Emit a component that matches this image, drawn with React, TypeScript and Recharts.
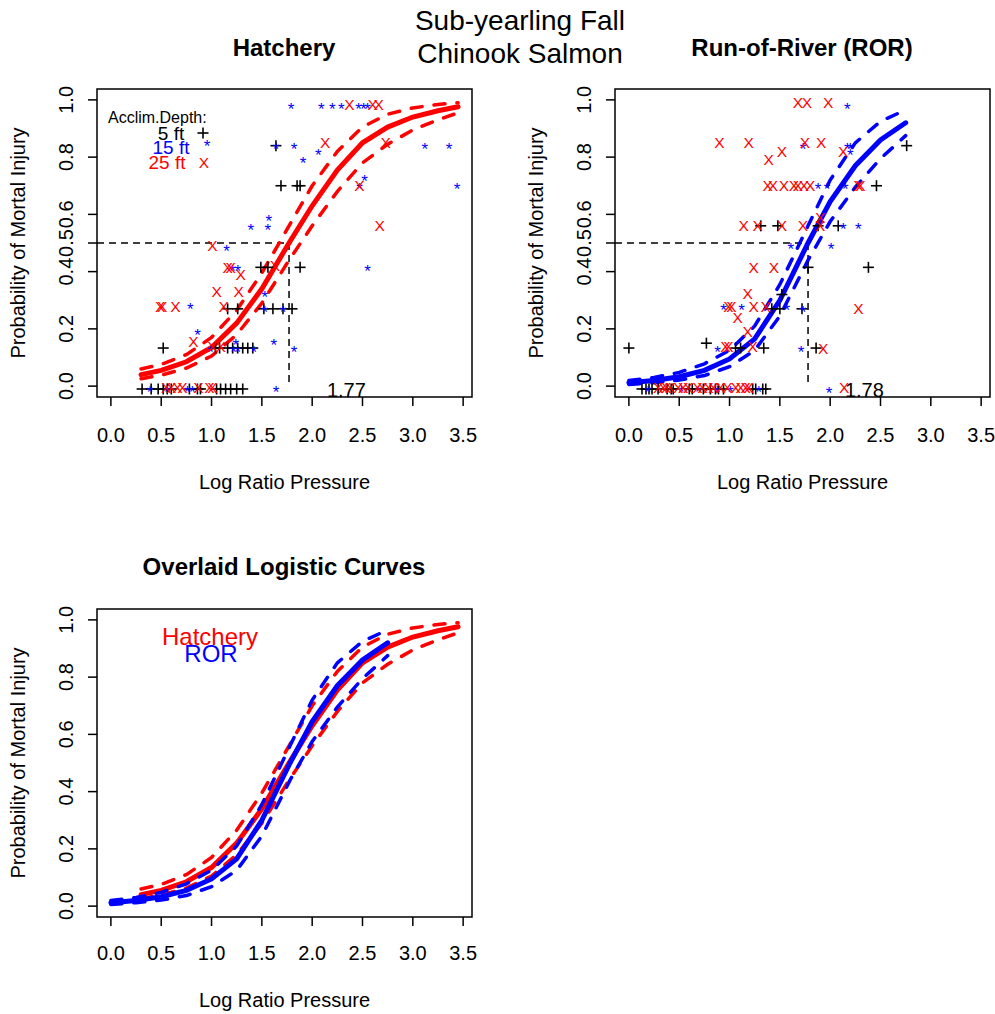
import React from 'react';
import {
  ComposedChart,
  Line,
  Scatter,
  XAxis,
  YAxis,
  ReferenceLine,
  ReferenceArea,
  ReferenceDot,
  Label,
} from 'recharts';

const FONT = '"Liberation Sans", Arial, Helvetica, sans-serif';
const RED = '#ff0000';
const BLUE = '#0000ff';

const X_DOMAIN = [-0.138, 3.588];
const Y_DOMAIN = [-0.038, 1.038];
const xTicks = [0, 0.5, 1, 1.5, 2, 2.5, 3, 3.5];
const yTicksLD50 = [0, 0.2, 0.4, 0.5, 0.6, 0.8, 1];
const yTicksPlain = [0, 0.2, 0.4, 0.6, 0.8, 1];

// fitted logistic curve and 95% band, hatchery fish
const hatchX = [0.3, 0.5, 0.75, 1.0, 1.25, 1.5, 1.77, 2.0, 2.25, 2.5, 2.75, 3.0, 3.25, 3.45];
const hatchFit = [0.04, 0.055, 0.085, 0.135, 0.22, 0.34, 0.5, 0.63, 0.755, 0.85, 0.905, 0.94, 0.962, 0.976];
const hatchUpper = [0.06, 0.076, 0.11, 0.17, 0.265, 0.395, 0.56, 0.7, 0.82, 0.905, 0.95, 0.972, 0.984, 0.99];
const hatchLower = [0.026, 0.038, 0.063, 0.105, 0.18, 0.29, 0.44, 0.56, 0.68, 0.78, 0.845, 0.895, 0.93, 0.955];

// fitted logistic curve and 95% band, run-of-river fish
const rorX = [0.0, 0.25, 0.5, 0.75, 1.0, 1.25, 1.5, 1.78, 2.0, 2.25, 2.5, 2.75];
const rorFit = [0.012, 0.02, 0.033, 0.055, 0.095, 0.165, 0.3, 0.5, 0.645, 0.77, 0.86, 0.92];
const rorUpper = [0.02, 0.03, 0.048, 0.078, 0.125, 0.21, 0.355, 0.56, 0.72, 0.85, 0.925, 0.965];
const rorLower = [0.006, 0.012, 0.021, 0.037, 0.068, 0.125, 0.245, 0.44, 0.575, 0.695, 0.795, 0.875];

// observed proportions by acclimation depth (x = log ratio pressure)
const hatch5ft: [number, number][] = [
  [1.64, 0.84], [1.69, 0.7], [1.85, 0.7], [1.88, 0.7], [1.88, 0.415], [1.49, 0.415], [1.56, 0.415],
  [1.16, 0.27], [1.26, 0.27], [1.52, 0.27], [1.61, 0.27], [1.71, 0.27], [1.8, 0.27],
  [0.52, 0.133], [1.04, 0.133], [1.08, 0.133], [1.16, 0.133], [1.21, 0.133], [1.26, 0.133],
  [1.31, 0.133], [1.36, 0.133], [1.41, 0.133],
  [0.31, -0.01], [0.4, -0.01], [0.47, -0.01], [0.52, -0.01], [0.56, -0.01], [0.6, -0.01],
  [0.78, -0.01], [0.86, -0.01], [0.89, -0.01], [1.05, -0.01], [1.09, -0.01], [1.14, -0.01],
  [1.19, -0.01], [1.25, -0.01], [1.31, -0.01],
];
const hatch15ft: [number, number][] = [
  [1.79, 0.98], [2.09, 0.98], [2.2, 0.98], [2.29, 0.98], [2.46, 0.98], [2.51, 0.98], [2.55, 0.98],
  [1.64, 0.84], [1.82, 0.84], [2.06, 0.82], [1.91, 0.79], [3.12, 0.84], [3.36, 0.84],
  [2.52, 0.73], [2.47, 0.7], [3.44, 0.7], [1.57, 0.59], [1.39, 0.556], [1.56, 0.556],
  [1.15, 0.486], [2.55, 0.415], [1.21, 0.415], [1.26, 0.415], [1.53, 0.325],
  [0.79, 0.28], [1.53, 0.27], [1.71, 0.27], [0.86, 0.19], [1.24, 0.157], [1.62, 0.157],
  [1.82, 0.13], [0.99, 0.133], [1.22, 0.133], [1.26, 0.133], [1.42, 0.133],
  [0.39, -0.01], [0.56, -0.01], [0.76, -0.01], [0.81, -0.01], [1.64, -0.01],
];
const hatch25ft: [number, number][] = [
  [2.37, 0.985], [2.6, 0.985], [2.66, 0.985], [2.13, 0.85], [2.73, 0.85], [2.47, 0.7],
  [2.67, 0.56], [1.01, 0.49], [1.16, 0.415], [1.19, 0.415], [1.63, 0.42], [1.29, 0.39],
  [1.05, 0.33], [1.27, 0.33], [0.49, 0.277], [0.51, 0.277], [0.64, 0.277], [1.12, 0.277],
  [0.82, 0.155], [1.01, 0.14], [1.09, 0.14],
  [0.55, -0.005], [0.6, -0.005], [0.66, -0.005], [0.71, -0.005], [0.87, -0.005], [0.98, -0.005], [1.01, -0.005],
];

const ror5ft: [number, number][] = [
  [2.76, 0.84], [2.46, 0.7], [1.31, 0.56], [1.48, 0.56], [1.88, 0.56], [2.08, 0.56],
  [1.78, 0.415], [2.38, 0.415], [1.52, 0.32], [1.42, 0.27], [1.5, 0.27], [1.72, 0.27],
  [0.0, 0.133], [0.77, 0.15], [1.06, 0.133], [1.11, 0.133], [1.34, 0.133], [1.86, 0.133],
  [0.13, -0.01], [0.17, -0.01], [0.2, -0.01], [0.23, -0.01], [0.29, -0.01], [0.38, -0.01],
  [0.42, -0.01], [0.44, -0.01], [0.6, -0.01], [0.63, -0.01], [0.74, -0.01], [0.81, -0.01],
  [0.86, -0.01], [0.89, -0.01], [0.94, -0.01], [1.23, -0.01], [1.26, -0.01], [1.33, -0.01], [1.36, -0.01],
];
const ror15ft: [number, number][] = [
  [2.17, 0.98], [1.73, 0.84], [2.17, 0.84], [2.2, 0.84], [2.2, 0.82], [1.88, 0.7], [1.97, 0.7],
  [2.15, 0.7], [2.13, 0.56], [2.28, 0.56], [1.61, 0.49], [2.01, 0.49], [0.94, 0.277],
  [1.12, 0.277], [1.57, 0.277], [1.73, 0.27], [1.71, 0.13], [0.88, 0.133], [1.99, -0.013],
  [0.19, -0.01], [0.52, -0.01], [0.69, -0.01], [0.88, -0.01], [1.01, -0.01], [1.29, -0.01],
];
const ror25ft: [number, number][] = [
  [1.68, 0.99], [1.77, 0.99], [1.98, 0.99], [0.9, 0.85], [1.19, 0.85], [1.39, 0.79], [1.52, 0.82],
  [1.75, 0.85], [1.91, 0.85], [2.13, 0.82], [1.38, 0.7], [1.43, 0.7], [1.54, 0.7], [1.64, 0.7],
  [1.68, 0.7], [1.74, 0.7], [1.8, 0.7], [2.28, 0.7], [2.3, 0.7], [1.14, 0.56], [1.28, 0.56],
  [1.52, 0.56], [1.73, 0.56], [1.9, 0.59], [1.9, 0.56], [1.24, 0.415], [1.44, 0.415],
  [1.18, 0.325], [0.99, 0.277], [1.02, 0.277], [1.08, 0.24], [1.24, 0.277], [1.36, 0.277],
  [2.28, 0.27], [1.18, 0.19], [0.96, 0.14], [0.99, 0.14], [1.23, 0.14], [1.93, 0.133], [2.14, -0.005],
  [0.29, -0.005], [0.34, -0.005], [0.37, -0.005], [0.41, -0.005], [0.49, -0.005], [0.54, -0.005],
  [0.59, -0.005], [0.68, -0.005], [0.73, -0.005], [0.79, -0.005], [0.84, -0.005], [0.91, -0.005],
  [0.98, -0.005], [1.06, -0.005], [1.11, -0.005], [1.16, -0.005], [1.19, -0.005],
];

const HATCH_LD50 = 1.77;
const ROR_LD50 = 1.78;

const toPts = (pts: [number, number][]) => pts.map(([x, y]) => ({ x, y }));
const toCurve = (xs: number[], ys: number[]) => xs.map((x, i) => ({ x, y: ys[i] }));

const PlusMark = ({ cx, cy }: any) => (
  <g stroke="#000" strokeWidth={1.6}>
    <line x1={cx - 5.5} x2={cx + 5.5} y1={cy} y2={cy} />
    <line x1={cx} x2={cx} y1={cy - 5.5} y2={cy + 5.5} />
  </g>
);
const StarMark = ({ cx, cy }: any) => (
  <text x={cx} y={cy + 9.5} fontSize={17} fill={BLUE} textAnchor="middle" fontFamily={FONT}>*</text>
);
const XMark = ({ cx, cy }: any) => (
  <text x={cx} y={cy + 5.5} fontSize={15.5} fill={RED} textAnchor="middle" fontFamily={FONT}>X</text>
);

const XTick = ({ x, payload, ty }: any) => (
  <text x={x} y={ty} fontSize={20} fontFamily={FONT} textAnchor="middle" dominantBaseline="central" fill="#000">
    {Number(payload.value).toFixed(1)}
  </text>
);
const YTick = ({ y, payload }: any) => (
  <text
    x={66}
    y={y}
    transform={`rotate(-90 66 ${y})`}
    fontSize={20}
    fontFamily={FONT}
    textAnchor="middle"
    dominantBaseline="central"
    fill="#000"
  >
    {Number(payload.value).toFixed(1)}
  </text>
);

function Panel({ left, top, width, height, yTicks, tickY, titleY, children }: any) {
  return (
    <div style={{ position: 'absolute', left, top }}>
      <ComposedChart width={width} height={height} margin={{ top: 89, right: width - 472, bottom: 0, left: 0 }}>
        <XAxis
          type="number"
          dataKey="x"
          domain={X_DOMAIN}
          allowDataOverflow
          ticks={xTicks}
          interval={0}
          height={height - 397}
          tickSize={9}
          axisLine={false}
          tickLine={{ stroke: '#000', strokeWidth: 1.5 }}
          tick={(p: any) => <XTick {...p} ty={tickY} />}
        >
          <Label
            content={() => (
              <text x={284.5} y={titleY} fontSize={20} fontFamily={FONT} textAnchor="middle" dominantBaseline="central">
                Log Ratio Pressure
              </text>
            )}
          />
        </XAxis>
        <YAxis
          type="number"
          dataKey="y"
          domain={Y_DOMAIN}
          allowDataOverflow
          ticks={yTicks}
          interval={0}
          width={97}
          tickSize={9}
          axisLine={false}
          tickLine={{ stroke: '#000', strokeWidth: 1.5 }}
          tick={YTick}
        >
          <Label
            content={() => (
              <text
                x={18}
                y={243}
                transform="rotate(-90 18 243)"
                fontSize={20}
                fontFamily={FONT}
                textAnchor="middle"
                dominantBaseline="central"
              >
                Probability of Mortal Injury
              </text>
            )}
          />
        </YAxis>
        <ReferenceArea
          x1={X_DOMAIN[0]}
          x2={X_DOMAIN[1]}
          y1={Y_DOMAIN[0]}
          y2={Y_DOMAIN[1]}
          fill="none"
          fillOpacity={0}
          stroke="#000"
          strokeWidth={1.5}
          ifOverflow="visible"
        />
        {children}
      </ComposedChart>
    </div>
  );
}

const curveLine = (key: string, data: any[], color: string, dashed: boolean) => (
  <Line
    key={key}
    data={data}
    dataKey="y"
    type="linear"
    stroke={color}
    strokeWidth={dashed ? 3.5 : 5}
    strokeDasharray={dashed ? '11 12' : undefined}
    strokeLinecap="round"
    dot={false}
    activeDot={false}
    isAnimationActive={false}
  />
);

const ld50Lines = (ld: number, label: string) => [
  <ReferenceLine
    key="h"
    segment={[{ x: X_DOMAIN[0], y: 0.5 }, { x: ld, y: 0.5 }]}
    stroke="#000"
    strokeWidth={1.5}
    strokeDasharray="7 5"
    ifOverflow="visible"
  />,
  <ReferenceLine
    key="v"
    segment={[{ x: ld, y: 0.5 }, { x: ld, y: 0.0 }]}
    stroke="#000"
    strokeWidth={1.5}
    strokeDasharray="7 5"
    ifOverflow="visible"
  />,
  <ReferenceDot
    key="t"
    x={2.34}
    y={-0.012}
    ifOverflow="visible"
    shape={(p: any) => (
      <text x={p.cx} y={p.cy} fontSize={20} fontFamily={FONT} textAnchor="middle" dominantBaseline="central">
        {label}
      </text>
    )}
  />,
];

const scatters = (p5: any, p15: any, p25: any) => [
  <Scatter key="s5" data={toPts(p5)} shape={(p: any) => <PlusMark cx={p.cx} cy={p.cy} />} isAnimationActive={false} />,
  <Scatter key="s15" data={toPts(p15)} shape={(p: any) => <StarMark cx={p.cx} cy={p.cy} />} isAnimationActive={false} />,
  <Scatter key="s25" data={toPts(p25)} shape={(p: any) => <XMark cx={p.cx} cy={p.cy} />} isAnimationActive={false} />,
];

const hatchCurves = (color: string) => [
  curveLine('hu', toCurve(hatchX, hatchUpper), color, true),
  curveLine('hl', toCurve(hatchX, hatchLower), color, true),
  curveLine('hf', toCurve(hatchX, hatchFit), color, false),
];
const rorCurves = (color: string) => [
  curveLine('ru', toCurve(rorX, rorUpper), color, true),
  curveLine('rl', toCurve(rorX, rorLower), color, true),
  curveLine('rf', toCurve(rorX, rorFit), color, false),
];

export default function App() {
  const t = { fontFamily: FONT, textAnchor: 'middle' as const, dominantBaseline: 'central' as const };
  return (
    <div style={{ position: 'absolute', left: 0, top: 0, width: 995, height: 1014, background: '#fff' }}>
      <Panel left={0} top={0} width={490} height={505} yTicks={yTicksLD50} tickY={435} titleY={482}>
        {scatters(hatch5ft, hatch15ft, hatch25ft)}
        {ld50Lines(HATCH_LD50, '1.77')}
        {hatchCurves(RED)}
      </Panel>
      <Panel left={518} top={0} width={477} height={505} yTicks={yTicksLD50} tickY={435} titleY={482}>
        {scatters(ror5ft, ror15ft, ror25ft)}
        {ld50Lines(ROR_LD50, '1.78')}
        {rorCurves(BLUE)}
      </Panel>
      <Panel left={0} top={520} width={490} height={494} yTicks={yTicksPlain} tickY={433} titleY={480}>
        {hatchCurves(RED)}
        {rorCurves(BLUE)}
      </Panel>
      <svg
        width={995}
        height={1014}
        style={{ position: 'absolute', left: 0, top: 0, pointerEvents: 'none' }}
      >
        <text x={520} y={20} fontSize={28} {...t}>Sub-yearling Fall</text>
        <text x={520} y={53} fontSize={28} {...t}>Chinook Salmon</text>
        <text x={284} y={47} fontSize={24} fontWeight="bold" {...t}>Hatchery</text>
        <text x={802} y={47} fontSize={24} fontWeight="bold" {...t}>Run-of-River (ROR)</text>
        <text x={284} y={566} fontSize={24} fontWeight="bold" {...t}>Overlaid Logistic Curves</text>

        <text x={108} y={117} fontSize={16} fontFamily={FONT} dominantBaseline="central">Acclim.Depth:</text>
        <text x={171} y={133} fontSize={19} fill="#000" {...t}>5 ft</text>
        <text x={171} y={147} fontSize={19} fill={BLUE} {...t}>15 ft</text>
        <text x={167} y={162} fontSize={19} fill={RED} {...t}>25 ft</text>
        <PlusMark cx={203} cy={133} />
        <StarMark cx={207} cy={142} />
        <XMark cx={204} cy={162} />

        <text x={210} y={636} fontSize={24} fill={RED} {...t}>Hatchery</text>
        <text x={211} y={653} fontSize={24} fill={BLUE} {...t}>ROR</text>
      </svg>
    </div>
  );
}
